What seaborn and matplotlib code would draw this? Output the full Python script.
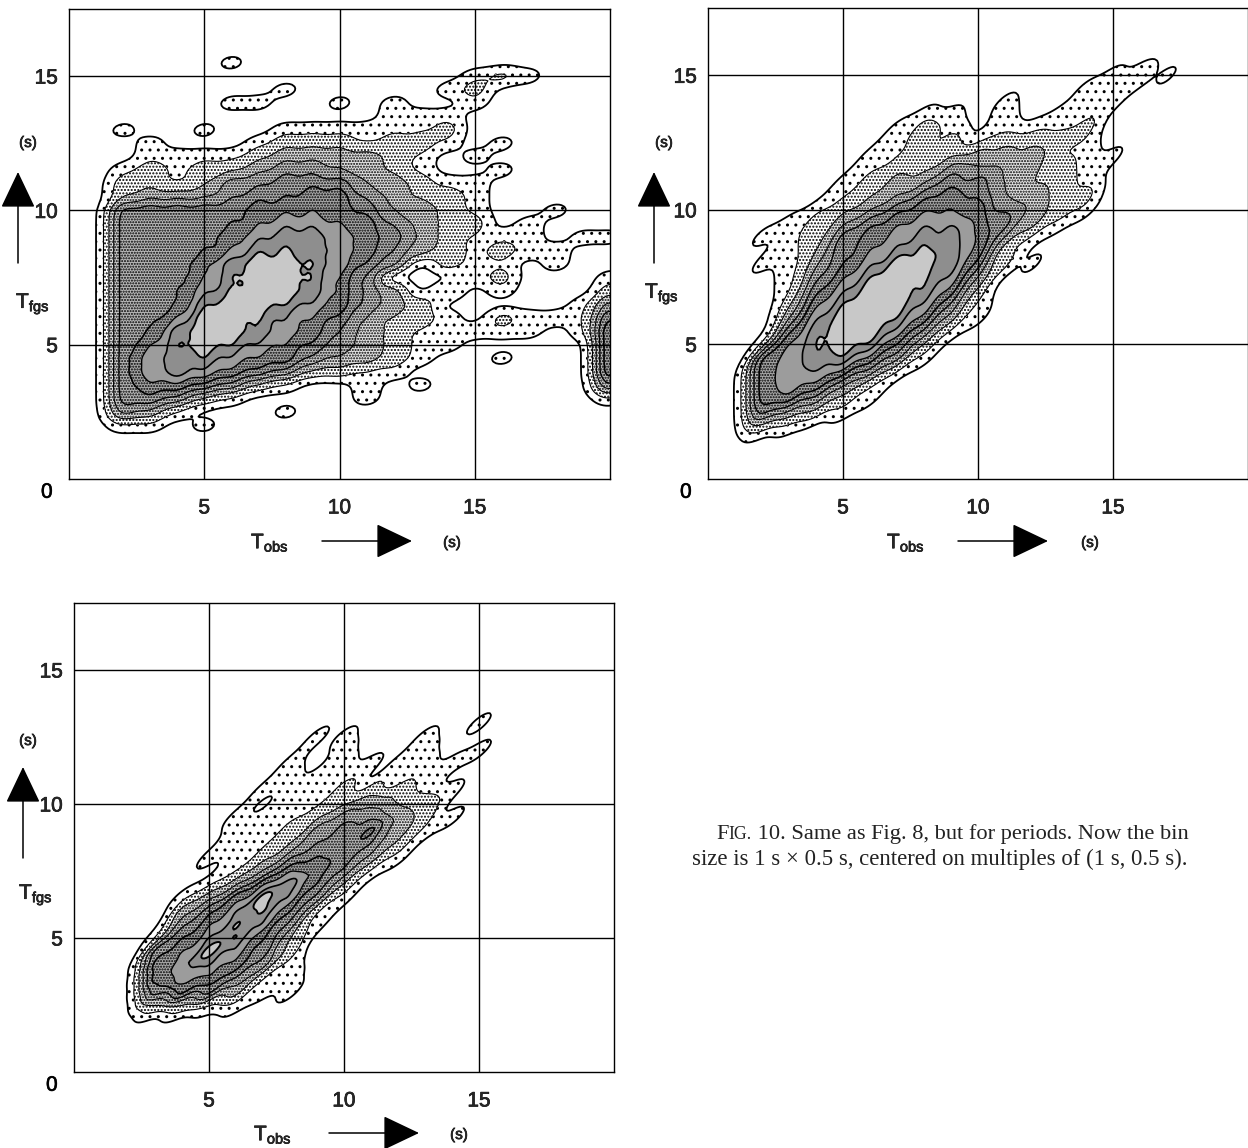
import numpy as np, pandas as pd, seaborn as sns
import matplotlib
matplotlib.use("Agg")
import matplotlib.pyplot as plt
import matplotlib.patheffects as pe
from seaborn._statistics import KDE

W, H = 1248, 1148
sns.set_theme(style="white", rc={'patch.force_edgecolor': False, 'patch.edgecolor': 'black'})
plt.rcParams['font.family'] = ['Liberation Sans', 'DejaVu Sans']
plt.rcParams['hatch.linewidth'] = 1.0
plt.rcParams['hatch.color'] = 'black'

T_OBS = list(range(1, 21))
T_FGS = [16.5 - 0.5 * i for i in range(30)]
GRID_TICKS = [5, 10, 15]

PANEL_A = """00000000000000000000 00000000000000000000 00000100000000000000 00000000000000121000
00000001000001200000 00000110010100100000 00000000000111000000 01001001111112000000
00100012221221010000 00111123333210100000 01212234433210010000 02212445553321100000
02333455664322100000 05555566665332100100 05555567766432201000 05555678876532111011
05555688876432121100 05556899875402110100 05556899864000120001 05557899864302010002
05558998764320000014 05569987653221021116 05589987643211111017 05689876543211000007
05788766433210010007 05787654221100000007 05665421001010000005 05542100001000000001
04310001000000000000 01101000000000000000""".split()

PANEL_B = """00000000000000000000 00000000000000000000 00000000000000000000 00000000000000121000
00000000000001100000 00000000001000100000 00000001101011000000 00000012101112000000
00000012212221000000 00000111233311100000 00000122433321000000 00001233553221000000
00001235653322000000 00012356664321000000 00123567765310000000 01125678863100000000
00125678861000000000 01135799852100000000 00146898730000000000 00157998620000000000
00268997410000000000 00379986310000000000 00589974100000000000 01689852000000000000
06788641000000000000 06776410000000000000 06763100000000000000 06642100000000000000
05321000000000000000 02100000000000000000""".split()

PANEL_C = """00000000000000000000 00000000000000000000 00000000000000000000 00000000000000000000
00000000000000000000 00000000000000000000 00000000000000000000 00000000000000100000
00000000110010000000 00000000010010100000 00000001011111000000 00000001110010000000
00000011122211000000 00000001123220000000 00000111244321000000 00000112456310000000
00000112454200000000 00001124553100000000 00000136641000000000 00001368520000000000
00013697410000000000 00035785100000000000 00046874100000000000 00157852000000000000
00569752000000000000 00677641000000000000 00676411000000000000 00565311000000000000
00221100000000000000 00000000000000000000""".split()

CONTOUR_STEPS = [0.45, 1.3, 2.3, 3.3, 4.3, 5.3, 6.3, 7.3, 8.2]
BAND_GREYS = ['#ffffff', '#ffffff', '#e4e4e4', '#cccccc', '#b8b8b8', '#a8a8a8', '#9c9c9c', '#8e8e8e', '#c8c8c8']
BAND_HATCH = ['..', '.....', '......', '......', '......', '......', None, None, None]
LINE_W = [1.3, 0.8, 0.8, 0.8, 1.0, 1.2, 1.0, 1.2, 1.4]
KERNEL_SX = 0.47
GRIDSIZE = 220
HEAVY = [pe.withStroke(linewidth=0.45, foreground='black')]


def px_axes(fig, l, t, r, b):
    return fig.add_axes([l / W, 1 - b / H, (r - l) / W, (b - t) / H])


def draw_panel(ax, rows):
    z = np.array([[int(c) for c in r] for r in rows], float)
    xx, yy = np.meshgrid(T_OBS, T_FGS)
    df = pd.DataFrame({'x': xx.ravel(), 'y': yy.ravel(), 'w': z.ravel()})
    df = df[df.w > 0]
    mean = np.average(df.x, weights=df.w)
    std = np.sqrt(np.average((df.x - mean) ** 2, weights=df.w))
    bw = KERNEL_SX / std
    density, _ = KDE(bw_method=bw, gridsize=GRIDSIZE, cut=3)(df.x.values, df.y.values, weights=df.w.values)
    cell = 1.0 * 0.5
    props, cols, hats, lws = [], [], [], []
    dens_sum = density.sum()
    for s, c, h, lw in zip(CONTOUR_STEPS, BAND_GREYS, BAND_HATCH, LINE_W):
        d = s / cell / df.w.sum()
        if d < density.max() * 0.98:
            props.append(density[density < d].sum() / dens_sum)
            cols.append(c); hats.append(h); lws.append(lw)
    kw = dict(data=df, x='x', y='y', weights='w', bw_method=bw, gridsize=GRIDSIZE, cut=3, ax=ax, color='black')
    sns.kdeplot(fill=True, levels=props + [1.0], colors=cols, hatches=hats, **kw)
    sns.kdeplot(fill=False, levels=props, linewidths=lws, **kw)
    ax.set_xlim(0, 20)
    ax.set_ylim(0, 17.5)
    ax.set_xticks(GRID_TICKS)
    ax.set_yticks(GRID_TICKS)
    ax.set_xlabel('')
    ax.set_ylabel('')
    ax.grid(True, color='black', linewidth=1.0, zorder=5)
    ax.set_axisbelow(False)
    ax.tick_params(length=0, pad=14, labelsize=15)
    ax.tick_params(axis='y', pad=8)
    for t in ax.get_xticklabels() + ax.get_yticklabels():
        t.set_path_effects(HEAVY)
    for sp in ax.spines.values():
        sp.set_visible(True)
        sp.set_color('black')
        sp.set_linewidth(1.0)
    ax.text(-0.03, -0.008, '0', transform=ax.transAxes, fontsize=15, ha='right', va='top', color='black', path_effects=HEAVY)


def arrow(ax, x0, y0, x1, y1):
    ax.annotate('', xy=(x1 / W, 1 - y1 / H), xytext=(x0 / W, 1 - y0 / H),
                xycoords='figure fraction', textcoords='figure fraction', annotation_clip=False,
                arrowprops=dict(arrowstyle='-|>,head_length=1.05,head_width=0.5', mutation_scale=22,
                                color='black', lw=1.1, shrinkA=0, shrinkB=0))


def labels(fig, ax, xlab, xarrow, xunit, ylab, yarrow, yunit):
    fig.text(xlab[0] / W, 1 - xlab[1] / H, r'T$_{\mathregular{obs}}$', fontsize=15, ha='center', va='center', path_effects=HEAVY)
    arrow(ax, xarrow[0], xarrow[2], xarrow[1], xarrow[2])
    fig.text(xunit[0] / W, 1 - xunit[1] / H, '(s)', fontsize=11, ha='center', va='center', path_effects=HEAVY)
    fig.text(ylab[0] / W, 1 - ylab[1] / H, r'T$_{\mathregular{fgs}}$', fontsize=15, ha='center', va='center', path_effects=HEAVY)
    arrow(ax, yarrow[0], yarrow[1], yarrow[0], yarrow[2])
    fig.text(yunit[0] / W, 1 - yunit[1] / H, '(s)', fontsize=11, ha='center', va='center', path_effects=HEAVY)


fig = plt.figure(figsize=(W / 100, H / 100), dpi=100, facecolor='white')
ax1 = px_axes(fig, 69, 9, 610, 479)
ax2 = px_axes(fig, 708, 8, 1248, 479)
ax3 = px_axes(fig, 74, 603, 614, 1072)
draw_panel(ax1, PANEL_A)
draw_panel(ax2, PANEL_B)
draw_panel(ax3, PANEL_C)
labels(fig, ax1, (270, 543), (322, 412, 541), (452, 543), (33, 304), (18, 263, 172), (28, 143))
labels(fig, ax2, (906, 543), (958, 1048, 541), (1090, 543), (662, 294), (654, 263, 172), (664, 143))
labels(fig, ax3, (273, 1135), (329, 419, 1133), (459, 1135), (36, 895), (23, 858, 767), (28, 741))

renderer = fig.canvas.get_renderer()
cursor = 716
for part, size in [('F', 16.1), ('IG.', 12.8), (' 10. Same as Fig. 8, but for periods. Now the bin', 16.1)]:
    t = fig.text(cursor / W, 1 - 839 / H, part, family='Liberation Serif', fontsize=size, ha='left', va='baseline', color='#222222')
    cursor = t.get_window_extent(renderer).x1
fig.text(692 / W, 1 - 865 / H, 'size is 1 s \u00d7 0.5 s, centered on multiples of (1 s, 0.5 s).', family='Liberation Serif',
         fontsize=16.4, ha='left', va='baseline', color='#222222')
fig.savefig('out.png', dpi=100, facecolor='white')
